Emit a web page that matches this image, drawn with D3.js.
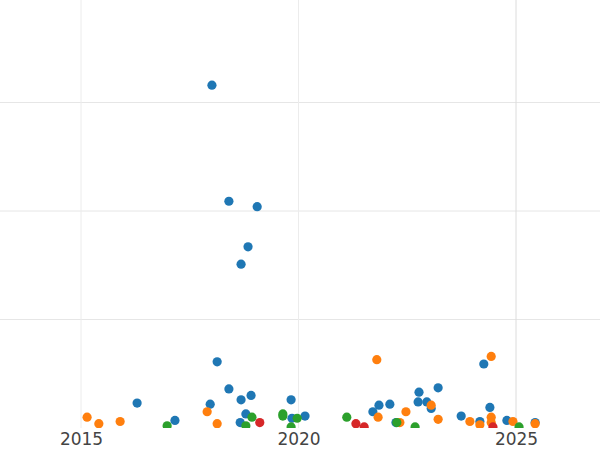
<!DOCTYPE html><html><head><meta charset="utf-8"><script src="https://cdn.jsdelivr.net/npm/d3@7"></script>
<style>body{margin:0;background:#fff}</style></head><body><svg id="c" width="600" height="450"></svg>
<script>
const blue=[[2018.01,3.16],[2018.40,2.09],[2019.05,2.04],[2018.84,1.67],[2018.68,1.51],[2018.13,0.61],[2016.29,0.23],[2017.16,0.07],[2018.40,0.36],[2017.97,0.22],[2018.91,0.30],[2018.68,0.26],[2018.79,0.13],[2018.66,0.05],[2019.83,0.26],[2019.85,0.09],[2020.15,0.11],[2021.85,0.21],[2022.10,0.22],[2021.71,0.15],[2022.77,0.33],[2022.75,0.24],[2022.95,0.24],[2023.21,0.37],[2023.05,0.18],[2023.74,0.11],[2024.26,0.59],[2024.40,0.19],[2024.17,0.06],[2024.79,0.07],[2025.44,0.05],[2022.24,0.05]];
const orange=[[2015.14,0.10],[2015.41,0.04],[2015.90,0.06],[2017.90,0.15],[2018.13,0.04],[2021.80,0.63],[2021.83,0.10],[2022.47,0.15],[2022.33,0.05],[2023.05,0.21],[2023.21,0.08],[2023.94,0.06],[2024.43,0.66],[2024.43,0.10],[2024.43,0.05],[2024.17,0.03],[2024.93,0.06],[2025.44,0.04]];
const green=[[2016.98,0.02],[2018.93,0.10],[2018.79,0.02],[2019.64,0.13],[2019.64,0.11],[2019.97,0.09],[2019.83,0.01],[2021.11,0.10],[2022.26,0.05],[2022.68,0.01],[2025.07,0.01]];
const red=[[2019.11,0.05],[2021.32,0.04],[2021.51,0.01],[2024.47,0.01]];
const xTicks=[2015,2020,2025];
const yGrid=[1,2,3];
const series=[{d:blue,c:"#1f77b4"},{d:orange,c:"#ff7f0e"},{d:green,c:"#2ca02c"},{d:red,c:"#d62728"}];
const svg=d3.select("#c");
const x=d3.scaleLinear().domain([2015,2025]).range([81,516]);
const y=d3.scaleLinear().domain([0,1]).range([428,319.5]);
svg.append("clipPath").attr("id","cl").append("rect").attr("x",0).attr("y",0).attr("width",600).attr("height",428);
const g=svg.append("g").attr("clip-path","url(#cl)");
g.selectAll(".hg").data(yGrid).join("line").attr("x1",0).attr("x2",600).attr("y1",d=>y(d)).attr("y2",d=>y(d)).attr("stroke","#e6e6e6");
g.selectAll(".vg").data(xTicks).join("line").attr("y1",0).attr("y2",428).attr("x1",d=>x(d)).attr("x2",d=>x(d)).attr("stroke",d=>d===2025?"#dcdcdc":"#ececec");
series.forEach(s=>g.append("g").selectAll("circle").data(s.d).join("circle").attr("cx",d=>x(d[0])).attr("cy",d=>y(d[1])).attr("r",4.6).attr("fill",s.c));
const ax=svg.append("g").attr("transform","translate(0,428)").call(d3.axisBottom(x).tickValues(xTicks).tickFormat(d3.format("d")).tickSize(0).tickPadding(5));
ax.select(".domain").remove();
ax.selectAll("text").attr("font-family","DejaVu Sans").attr("font-size",17).attr("fill","#444");
</script></body></html>
